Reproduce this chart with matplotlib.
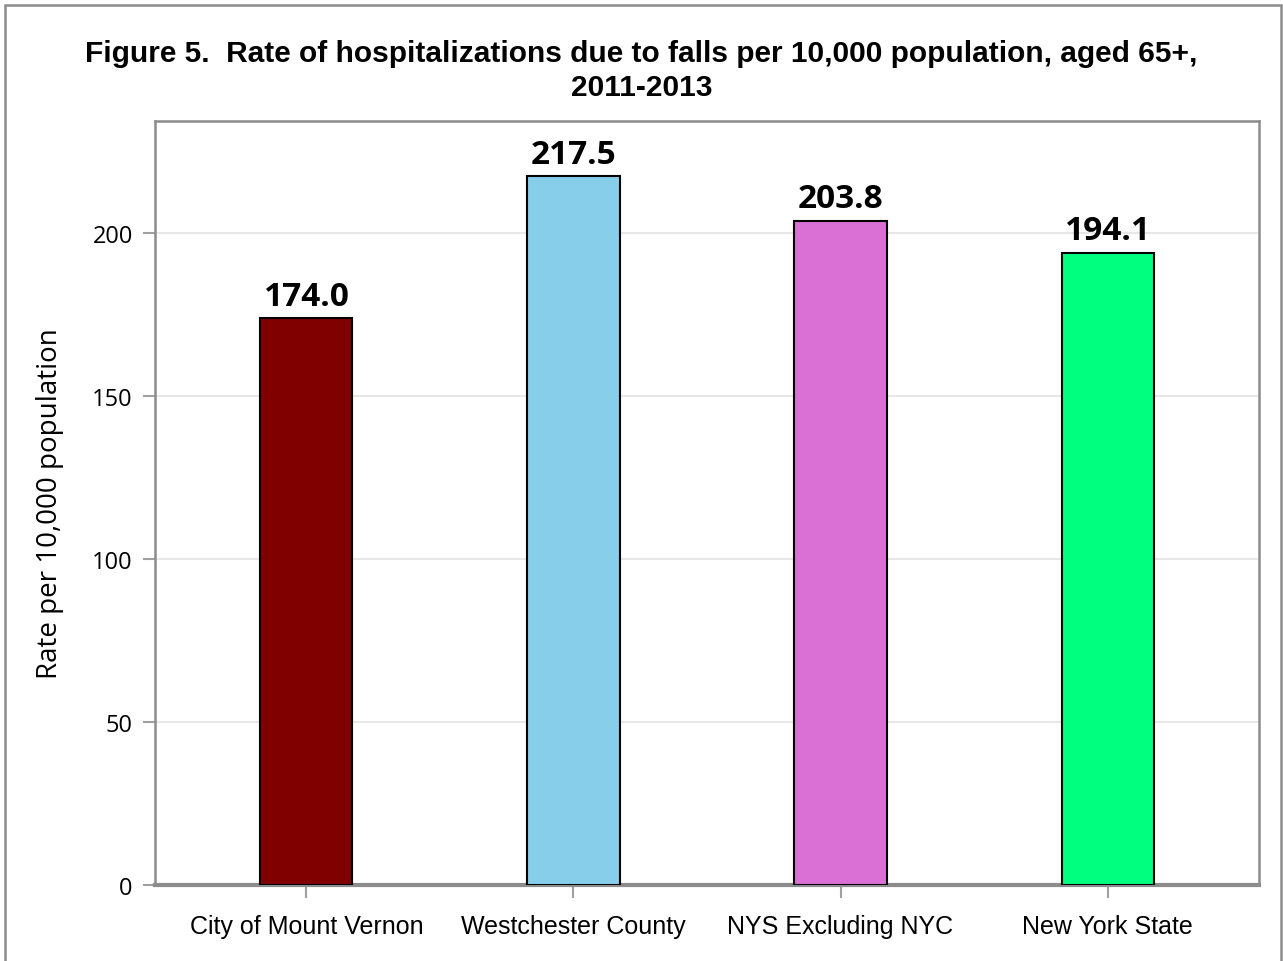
import matplotlib.pyplot as plt
from matplotlib.patches import Rectangle

# Data
regions = ['City of Mount Vernon', 'Westchester County', 'NYS Excluding NYC', 'New York State']
rates = [174.0, 217.5, 203.8, 194.1]
bar_colors = ['#800000', '#87CEEB', '#DA70D6', '#00FF7F']
yticks = [0, 50, 100, 150, 200]

fig = plt.figure(figsize=(12.83, 9.62), dpi=100)
ax = fig.add_axes([155 / 1283, 1 - 886 / 962, (1259 - 155) / 1283, (886 - 122) / 962])

x = list(range(len(regions)))
ax.bar(x, rates, width=0.345, color=bar_colors, edgecolor='black', linewidth=1.5, zorder=3)

# value labels above bars
for xi, v in zip(x, rates):
    ax.annotate(f'{v:.1f}', (xi, v), xytext=(0, 4), textcoords='offset points',
                ha='center', va='bottom', fontsize=24, fontweight='bold', family='Open Sans')

ax.set_xlim(-0.567, 3.567)
ax.set_ylim(0, 234.5)
ax.set_xticks(x)
ax.set_xticklabels(regions, fontsize=18, family='Liberation Sans')
ax.set_yticks(yticks)
ax.set_yticklabels([str(t) for t in yticks], fontsize=17, family='Open Sans')
ax.set_ylabel('Rate per 10,000 population', fontsize=20, family='Open Sans', labelpad=20)

ax.grid(axis='y', color='#e3e3e3', linewidth=1.2, zorder=0)
for s in ax.spines.values():
    s.set_color('#8c8c8c')
    s.set_linewidth(1.8)
ax.spines['bottom'].set_linewidth(3)
ax.tick_params(axis='both', color='#a0a0a0', length=9, width=1.5, pad=7)
ax.tick_params(axis='x', pad=12)

fig.suptitle('Figure 5.  Rate of hospitalizations due to falls per 10,000 population, aged 65+,\n2011-2013',
             y=1 - 40 / 962, va='top', fontsize=21.5, fontweight='bold', family='Liberation Sans',
             linespacing=1.25)

# outer frame around the whole figure
fig.patches.append(Rectangle((5 / 1283, -0.01), 1276 / 1283, 1 - 6 / 962 + 0.01,
                             transform=fig.transFigure, fill=False,
                             edgecolor='#8c8c8c', linewidth=1.8))

fig.savefig('out.png', dpi=100)
